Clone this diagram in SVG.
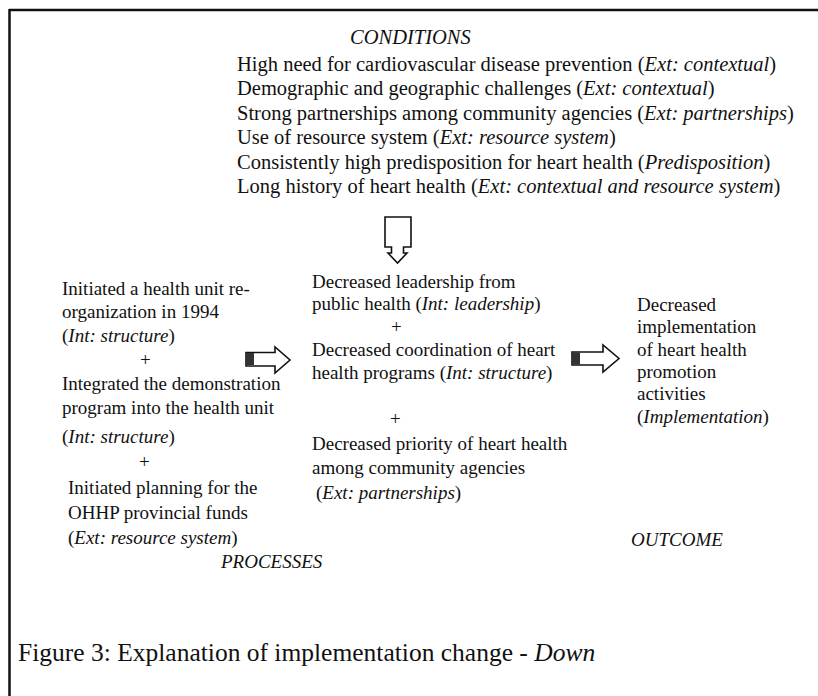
<svg xmlns="http://www.w3.org/2000/svg" width="818" height="696" viewBox="0 0 818 696">
<style>
text{font-family:"Liberation Serif","Times New Roman",serif;font-size:19px;fill:#111}
.i{font-style:italic}
.top{font-size:20.5px}
.cap{font-size:25.5px}
.arr{fill:#fff;stroke:#111;stroke-width:1.6;stroke-linejoin:miter}
.hatch{fill:#333}
</style>
<rect x="0" y="0" width="818" height="696" fill="#fff"/>
<g id="frame" fill="none" stroke="#111">
<line x1="9" y1="10" x2="818" y2="10" stroke-width="2.5"/>
<line x1="9.5" y1="9" x2="9.5" y2="696" stroke-width="2.5"/>
</g>
<g id="conditions">
<text x="350" y="44" class="i top">CONDITIONS</text>
<text x="237" y="71" class="top">High need for cardiovascular disease prevention (<tspan class="i">Ext: contextual</tspan>)</text>
<text x="237" y="95" class="top">Demographic and geographic challenges (<tspan class="i">Ext: contextual</tspan>)</text>
<text x="237" y="120" class="top">Strong partnerships among community agencies (<tspan class="i">Ext: partnerships</tspan>)</text>
<text x="237" y="144" class="top">Use of resource system (<tspan class="i">Ext: resource system</tspan>)</text>
<text x="237" y="169" class="top">Consistently high predisposition for heart health (<tspan class="i">Predisposition</tspan>)</text>
<text x="237" y="193" class="top">Long history of heart health (<tspan class="i">Ext: contextual and resource system</tspan>)</text>
</g>
<g id="processes-left">
<text x="62" y="295">Initiated a health unit re-</text>
<text x="62" y="318">organization in 1994</text>
<text x="62" y="342">(<tspan class="i">Int: structure</tspan>)</text>
<text x="140" y="366">+</text>
<text x="62" y="390">Integrated the demonstration</text>
<text x="62" y="414">program into the health unit</text>
<text x="62" y="443">(<tspan class="i">Int: structure</tspan>)</text>
<text x="139" y="468">+</text>
<text x="68" y="494">Initiated planning for the</text>
<text x="68" y="519">OHHP provincial funds</text>
<text x="68" y="544">(<tspan class="i">Ext: resource system</tspan>)</text>
<text x="221" y="568" class="i">PROCESSES</text>
</g>
<g id="processes-mid">
<text x="312" y="288">Decreased leadership from</text>
<text x="312" y="310">public health (<tspan class="i">Int: leadership</tspan>)</text>
<text x="391" y="333">+</text>
<text x="312" y="356">Decreased coordination of heart</text>
<text x="312" y="379">health programs (<tspan class="i">Int: structure</tspan>)</text>
<text x="390" y="425">+</text>
<text x="312" y="450">Decreased priority of heart health</text>
<text x="312" y="474">among community agencies</text>
<text x="316" y="499">(<tspan class="i">Ext: partnerships</tspan>)</text>
</g>
<g id="outcome">
<text x="637" y="311">Decreased</text>
<text x="637" y="333">implementation</text>
<text x="637" y="356">of heart health</text>
<text x="637" y="378">promotion</text>
<text x="637" y="400">activities</text>
<text x="637" y="423">(<tspan class="i">Implementation</tspan>)</text>
<text x="631" y="546" class="i">OUTCOME</text>
</g>
<g id="connectors">
<path class="arr" d="M385,217 H411 V247 H403.5 V253 H407 L397.5,263 L388,253 H391.5 V247 H385 Z"/>
<path class="arr" d="M246,352.5 H275 V347 L290,360 L275,373 V366 H246 Z"/>
<rect class="hatch" x="246" y="353" width="8" height="12"/>
<path class="arr" d="M572,352 H603 V345 L619,358.5 L603,372 V365 H572 Z"/>
<rect class="hatch" x="572" y="352.5" width="8" height="12"/>
</g>
<g id="caption">
<text x="18" y="661" class="cap">Figure 3: Explanation of implementation change - <tspan class="i">Down</tspan></text>
</g>
</svg>
